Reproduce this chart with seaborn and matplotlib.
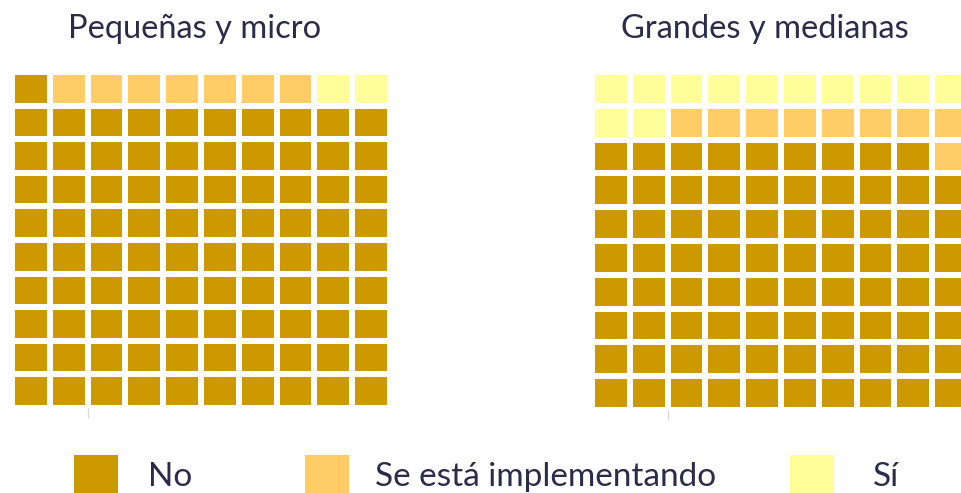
import numpy as np
import matplotlib
matplotlib.use("Agg")
import matplotlib.pyplot as plt
from matplotlib.colors import ListedColormap
from matplotlib.patches import Rectangle
import seaborn as sns

# datos (cuadros de 100)
categorias = ["No", "Se está implementando", "Sí"]
colores = ["#CC9900", "#FFCC66", "#FFFF99"]
grupos = ["Pequeñas y micro", "Grandes y medianas"]
pequenas = [91, 7, 2]
grandes = [79, 9, 12]

sns.set_theme(style="white")
plt.rcParams["font.family"] = ["Lato", "DejaVu Sans"]
color_texto = "#2d2b4a"

W, H = 962, 493
fig = plt.figure(figsize=(W / 100, H / 100), dpi=100)


def waffle(ax, valores):
    codigos = np.repeat(np.arange(len(valores)), valores)
    grid = codigos.reshape(10, 10)
    # orden en zigzag desde abajo: filas impares de derecha a izquierda
    grid[0::2] = grid[0::2, ::-1]
    grid = grid[::-1]
    sns.heatmap(grid, ax=ax, cmap=ListedColormap(colores), vmin=-0.5, vmax=2.5,
                cbar=False, linewidths=3, linecolor="white",
                xticklabels=False, yticklabels=False)
    ax.set_xticks([2])
    ax.set_xticklabels([""])
    ax.tick_params(axis="x", bottom=True, length=7, width=1, color="#d9d9d9")
    ax.set_yticks([])


# posiciones en px: (izq, arriba, ancho, alto)
cajas = [(12, 72, 378, 336), (592, 72, 378, 338)]
centros_titulo = [195, 765]
for (x0, y0, w, h), vals, titulo, cx in zip(cajas, [pequenas, grandes], grupos, centros_titulo):
    ax = fig.add_axes([x0 / W, 1 - (y0 + h) / H, w / W, h / H])
    waffle(ax, vals)
    fig.text(cx / W, 1 - 29 / H, titulo, ha="center", va="center",
             fontsize=23.5, color=color_texto)

# leyenda
leg = fig.add_axes([0, 0, 1, 1], facecolor="none")
leg.set_xlim(0, W)
leg.set_ylim(H, 0)
leg.axis("off")
x_cuadro = [74, 305, 790]
x_texto = [148, 375, 873]
for cat, col, xc, xt in zip(categorias, colores, x_cuadro, x_texto):
    leg.add_patch(Rectangle((xc, 455), 44, 44, facecolor=col, edgecolor="none"))
    leg.text(xt, 477, cat, ha="left", va="center", fontsize=24, color=color_texto)

fig.savefig("out.png", dpi=100)
